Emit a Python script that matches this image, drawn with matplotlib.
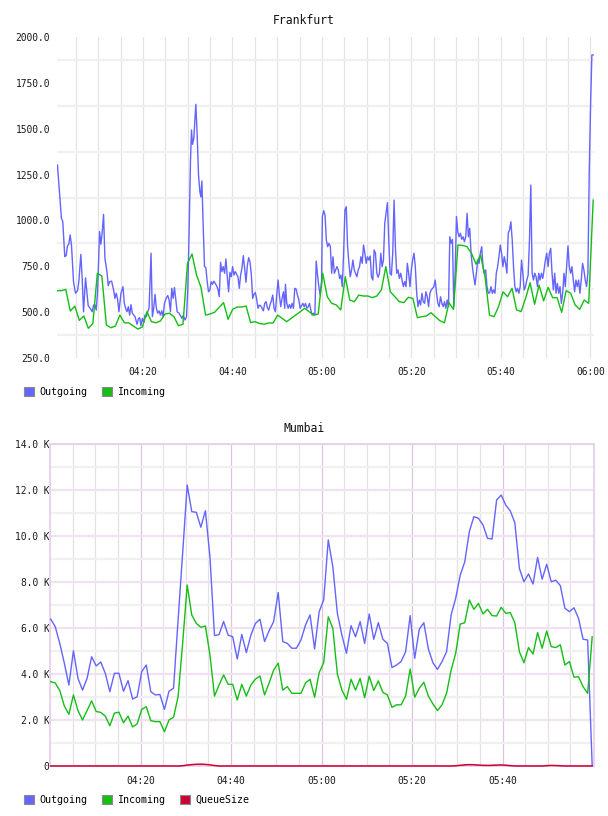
import numpy as np
import matplotlib
matplotlib.use("Agg")
import matplotlib.pyplot as plt
from matplotlib.patches import Patch

# ---------------- data ----------------
# Frankfurt, minutes after 04:00
fra_out_t_a = [0.87,1.32,1.76,2.06,2.51,2.81,3.11,3.41,3.71,4.01,4.46,4.90,5.35,5.65,6.10,6.40,6.70,7.15,7.45,7.74,
               8.19,8.64,8.94,9.24,9.54,9.84,10.29,10.58,10.88,11.18,11.48,11.93,12.23,12.53,12.98,13.42,13.72,14.02,14.32,14.62,
               15.07,15.52,15.82,16.11,16.41,16.71,17.01,17.31,17.61,17.91,18.21,18.66,18.96,19.25,19.55,19.85,20.15,20.45,20.75,21.05,
               21.35,21.80,22.09,22.39,22.69,22.99,23.29,23.59,23.89,24.19,24.49,24.78,25.23,25.53,25.83,26.13,26.43,26.73,27.03,27.33,
               27.63,28.07,28.37,28.67,28.97,29.42,29.72,30.02,30.32,30.61,30.84,31.06,31.36,31.59,31.81,32.11,32.41,32.71,32.93,33.16,
               33.45,33.75,34.05,34.35,34.65,34.95,35.25,35.55,35.85,36.15,36.44,36.74,37.04,37.34,37.64,37.94,38.24,38.54,38.84,39.13,
               39.43,39.73,40.03,40.33,40.63,40.93,41.23,41.53,41.82,42.12,42.42,42.72,43.02,43.32,43.62,43.92,44.22,44.52,44.81,45.11,
               45.41,45.71,46.01,46.31,46.61,46.91,47.21,47.51,47.80,48.10,48.40,48.70,49.00,49.30,49.60,49.90,50.20,50.49,50.79,51.09,
               51.39,51.69,51.84,52.14,52.44,52.74,53.04,53.34,53.64,53.93,54.23,54.53,54.83,55.13,55.43,55.73,56.03,56.33,56.62,56.92,
               57.22,57.52,57.82,58.12,58.42,58.72,59.02,59.31,59.61,59.91]
fra_out_v_a = [1302,1157,1012,993,802,808,862,870,921,865,666,603,616,666,815,684,502,687,611,535,
               521,502,538,541,511,611,939,870,936,1033,794,721,644,666,669,621,575,603,570,502,
               603,639,548,521,502,530,484,541,494,484,475,434,463,470,426,466,445,484,475,502,
               521,821,475,521,597,521,494,507,484,507,475,548,579,590,567,502,630,575,634,567,
               502,494,481,466,481,457,475,630,957,1320,1493,1415,1448,1542,1633,1466,1248,1157,1129,1215,
               975,748,743,666,611,621,666,652,669,657,644,626,584,772,721,748,712,790,693,611,
               717,693,748,702,721,706,693,630,702,739,808,739,663,753,797,775,702,575,597,607,
               571,521,538,535,521,507,548,557,525,511,541,561,593,521,502,593,675,593,530,575,
               611,521,652,548,521,541,521,548,521,630,626,593,567,521,535,548,530,548,521,530,
               548,511,484,494,484,779,702,639,593,666]
fra_out_v_b = [1021,1053,1030,893,857,875,857,712,802,712,730,748,730,684,702,639,821,1057,1075,857,
               766,693,730,784,730,712,693,730,748,802,766,866,821,766,802,784,806,693,675,839,
               821,712,690,712,821,748,784,984,1039,1097,893,712,702,821,1111,857,712,730,684,712,
               675,639,666,639,766,712,639,730,784,821,748,611,530,566,539,603,557,548,611,584,
               530,603,621,630,639,675,603,548,530,584,548,530,557,521,566,530,911,875,897,530,
               712,1021,939,911,930,897,911,884,911,1039,911,957,821,748,693,648,712,784,766,821,
               857,748,712,730,639,603,606,639,603,621,603,712,748,802,866,821,748,802,766,712,
               930,948,993,893,748,639,611,630,603,639,784,712,621,639,675,702,893,1193,712,675,
               712,693,639,712,675,712,684,730,784,821,748,821,848,712,621,712,603,657,603,639,
               548,603,712,639,748,861,748,712,748,675,611,675,639,675,603,675,766,730,675,639,
               712,1257,1620,1902,1902]
fra_out_b_start, fra_out_b_end = 60.1, 120.65

fra_in_v = [617,617,624,506,533,455,479,412,437,712,697,430,415,424,484,442,441,424,408,419,
            502,448,442,452,490,494,475,426,434,766,817,703,635,484,490,499,526,552,461,515,
            528,528,533,443,448,438,434,441,441,484,466,448,466,484,502,521,502,484,490,712,
            584,548,539,512,693,566,557,593,588,588,579,588,621,748,611,584,557,552,581,575,
            470,475,479,497,475,453,442,552,515,866,864,857,821,762,812,693,484,475,530,611,
            584,630,512,503,575,661,543,648,561,635,579,579,499,617,603,539,515,566,548,1111]
fra_in_start, fra_in_end = 0.72, 120.65

fra_xticks = [20, 40, 60, 80, 100, 120]
fra_xlabels = ["04:20", "04:40", "05:00", "05:20", "05:40", "06:00"]
fra_yticks = [250, 500, 750, 1000, 1250, 1500, 1750, 2000]

# Mumbai
mum_out = [6390,6060,5330,4470,3520,5010,3810,3300,3810,4750, 4350,4520,4030,3230,4030,4030,3250,3710,2910,3010,
           4100,4390,3230,3090,3110,2460,3250,3380,6350,9250, 12220,11060,11030,10380,11100,9100,5670,5710,6280,5690,
           5620,4650,5720,4930,5690,6200,6380,5410,5880,6280, 7540,5410,5330,5120,5120,5480,6130,6570,5090,6710,
           7220,9830,8670,6640,5690,4900,6100,5620,6280,5330, 6610,5510,6230,5510,5330,4280,4390,4540,4970,6540,
           4680,5940,6230,5090,4490,4200,4540,4970,6570,7290, 8300,8880,10190,10840,10770,10480,9900,9870,11570,11780,
           11350,11090,10580,8590,8010,8350,7910,9070,8120,8770, 8010,8080,7840,6860,6710,6880,6420,5510,5480,0]
mum_in = [3670,3610,3280,2610,2250,3090,2410,2000,2410,2830, 2370,2330,2170,1750,2300,2340,1880,2170,1700,1830,
          2460,2580,1970,1930,1930,1490,2000,2120,3010,5330, 7870,6570,6200,6030,6090,4830,3040,3520,3960,3550,
          3550,2870,3550,3040,3520,3780,3910,3090,3610,4170, 4470,3300,3450,3160,3160,3160,3610,3770,2990,4060,
          4490,6490,5990,4000,3300,2900,3770,3300,3810,2970, 3910,3280,3700,3200,3090,2550,2660,2660,3040,4220,
          2990,3380,3640,3040,2700,2410,2660,3160,4170,4900, 6170,6230,7220,6810,7070,6610,6810,6540,6520,6900,
          6640,6670,6230,4970,4490,5150,4870,5800,5120,5870, 5190,5150,5270,4390,4540,3860,3880,3450,3160,5620]
mum_queue = [0,0,0,0,0,0,0,0,0,0, 0,0,0,0,0,0,0,0,0,0,
             0,0,0,0,0,0,0,0,0,10, 40,60,75,80,70,50,20,0,0,0,
             0,0,0,0,0,0,0,0,0,0, 0,0,0,0,0,0,0,0,0,0,
             0,0,0,0,0,0,0,0,0,0, 0,0,0,0,0,0,0,0,0,0,
             0,0,0,0,0,0,0,0,0,10, 30,50,60,55,40,30,25,30,40,45,
             35,15,0,0,0,0,0,0,0,15, 25,20,10,0,0,0,0,0,0,0]
mum_start, mum_end = 0.15, 119.8
mum_xticks = [20, 40, 60, 80, 100]
mum_xlabels = ["04:20", "04:40", "05:00", "05:20", "05:40"]
mum_yticks = [0, 2000, 4000, 6000, 8000, 10000, 12000, 14000]

C_OUT = "#6464ff"
C_IN = "#14be14"
C_Q = "#cc0033"
MONO = "DejaVu Sans Mono"

fra_out_t = np.concatenate([fra_out_t_a, np.linspace(fra_out_b_start, fra_out_b_end, len(fra_out_v_b))])
fra_out_v = np.concatenate([fra_out_v_a, fra_out_v_b])
fra_in_t = np.linspace(fra_in_start, fra_in_end, len(fra_in_v))
mum_t = np.linspace(mum_start, mum_end, len(mum_out))

fig = plt.figure(figsize=(6.08, 8.16), dpi=100)
W, H = 608.0, 816.0
ax1 = fig.add_axes([57 / W, 1 - 358 / H, 537 / W, 321 / H])
ax2 = fig.add_axes([50 / W, 1 - 766 / H, 544 / W, 322 / H])

# ---- Frankfurt ----
ax1.set_xlim(0.77, 120.83)
ax1.set_ylim(250, 2000)
ax1.set_xticks(fra_xticks)
ax1.set_xticklabels(fra_xlabels)
ax1.set_xticks(np.arange(5, 121, 5), minor=True)
ax1.set_yticks(fra_yticks)
ax1.set_yticklabels([f"{v:.1f}" for v in fra_yticks])
ax1.set_yticks(np.arange(375, 2000, 250), minor=True)
ax1.grid(axis="x", which="both", color="#e4e4e4", lw=0.9)
ax1.grid(axis="y", which="minor", color="#f0f0f0", lw=1.6)
ax1.grid(axis="y", which="major", visible=False)
for s in ax1.spines.values():
    s.set_visible(False)
ax1.tick_params(which="both", length=0)
ax1.tick_params(axis="y", pad=5)
ax1.tick_params(axis="x", pad=6.5)
ax1.set_axisbelow(True)
ax1.plot(fra_out_t, fra_out_v, color=C_OUT, lw=1.0, zorder=3)
ax1.plot(fra_in_t, fra_in_v, color=C_IN, lw=1.0, zorder=4)

# ---- Mumbai ----
ax2.set_xlim(0, 120.2)
ax2.set_ylim(0, 14000)
ax2.set_xticks(mum_xticks)
ax2.set_xticklabels(mum_xlabels)
ax2.set_xticks(np.arange(5, 120, 5), minor=True)
ax2.set_yticks(mum_yticks)
ax2.set_yticklabels(["0" if v == 0 else f"{v/1000:.1f} K" for v in mum_yticks])
ax2.set_yticks(np.arange(1000, 14000, 2000), minor=True)
ax2.grid(axis="x", which="major", color="#dcc4e0", lw=0.9)
ax2.grid(axis="x", which="minor", color="#e6e0e6", lw=0.9)
ax2.grid(axis="y", which="major", color="#f0e2f2", lw=1.6)
ax2.grid(axis="y", which="minor", color="#f0f0f0", lw=1.6)
for s in ax2.spines.values():
    s.set_color("#e6d0ea")
    s.set_linewidth(1.3)
ax2.tick_params(which="both", length=0)
ax2.tick_params(axis="y", pad=0.5)
ax2.tick_params(axis="x", pad=7.2)
ax2.set_axisbelow(True)
ax2.plot(mum_t, mum_out, color=C_OUT, lw=1.0, zorder=3)
ax2.plot(mum_t, mum_in, color=C_IN, lw=1.0, zorder=4)
ax2.plot(mum_t, mum_queue, color=C_Q, lw=1.1, zorder=5, clip_on=False)

for ax in (ax1, ax2):
    for lab in ax.get_xticklabels() + ax.get_yticklabels():
        lab.set_fontfamily(MONO)
        lab.set_fontsize(6.9)
        lab.set_color("#1a1a1a")

fig.text(0.5, 1 - 20 / H, "Frankfurt", ha="center", va="center", family=MONO, fontsize=8.3, color="#111")
fig.text(0.5, 1 - 429 / H, "Mumbai", ha="center", va="center", family=MONO, fontsize=8.3, color="#111")

def make_legend(names, colors, ycenter):
    handles = [Patch(facecolor=c, edgecolor="#8a8a8a", lw=0.8) for c in colors]
    fig.legend(handles, names, loc="center left", bbox_to_anchor=(24 / W, 1 - ycenter / H),
               ncol=len(names), frameon=False, prop={"family": MONO, "size": 7.2},
               handlelength=1.0, handleheight=1.0, handletextpad=0.5, columnspacing=1.5,
               borderpad=0, borderaxespad=0)

make_legend(["Outgoing", "Incoming"], [C_OUT, C_IN], 392)
make_legend(["Outgoing", "Incoming", "QueueSize"], [C_OUT, C_IN, C_Q], 800)

fig.savefig("out.png", dpi=100)
